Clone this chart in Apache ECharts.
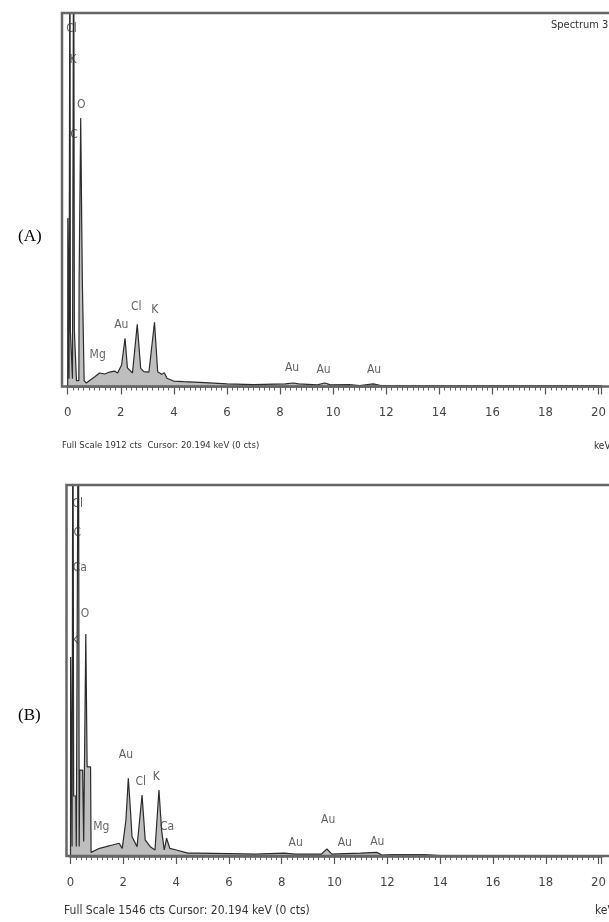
<!DOCTYPE html>
<html>
<head>
<meta charset="utf-8">
<script src="https://cdn.jsdelivr.net/npm/echarts@6/dist/echarts.min.js"></script>
<style>
html,body{margin:0;padding:0;background:#fff;}
#chart{width:609px;height:922px;}
</style>
</head>
<body>
<div id="chart"></div>
<script>
// ---------- Data ----------
// Panel (A): full scale 1912 cts
const energyA = [0.00,0.005,0.035,0.05,0.085,0.10,0.16,0.18,0.225,0.25,0.30,0.33,0.42,0.43,0.49,0.55,0.60,0.62,0.70,1.02,1.20,1.39,1.58,1.76,1.88,2.03,2.16,2.25,2.44,2.62,2.75,2.87,3.06,3.27,3.39,3.55,3.64,3.74,3.99,4.36,4.98,6.0,7.0,8.2,8.5,8.7,9.4,9.69,9.9,10.6,11.0,11.51,11.8,14.0,20.1];
const countsA = [0,863,863,40,2600,290,290,40,2600,290,290,30,30,550,1374,550,550,30,18,50,69,64,74,79,69,110,247,95,69,318,93,76,74,329,76,62,71,42,28,25,21,13,10,13,18,13,8,18,8,10,5,13,5,3,3];
// Panel (B): full scale 1546 cts
const energyB = [0.00,0.005,0.05,0.06,0.09,0.12,0.20,0.22,0.30,0.33,0.35,0.46,0.50,0.58,0.63,0.76,0.78,1.10,1.35,1.59,1.84,1.96,2.10,2.19,2.27,2.33,2.52,2.71,2.83,3.02,3.20,3.35,3.45,3.55,3.64,3.76,4.01,4.44,4.81,6.0,7.0,8.1,8.5,9.5,9.71,9.9,10.4,11.0,11.6,11.8,12.2,13.4,14.0,20.1];
const countsB = [0,829,829,40,2200,250,250,40,2200,40,358,358,60,925,371,371,15,32,39,46,53,32,150,324,192,80,39,254,67,39,25,275,108,25,74,32,25,12,12,10,8,12,8,8,29,8,10,12,15,4,6,6,2,2];

const fullScaleA = 1912;
const fullScaleB = 1546;
const xTicks = [0,2,4,6,8,10,12,14,16,18,20];

// Peak labels: [label, keV, counts]
const peakLabelsA = [
  ['Cl',0.14,1830],['K',0.20,1670],['O',0.51,1440],['C',0.24,1290],
  ['Mg',1.13,161],['Au',2.02,315],['Cl',2.58,407],['K',3.28,392],
  ['Au',8.45,95],['Au',9.64,84],['Au',11.54,84]
];
const peakLabelsB = [
  ['Cl',0.27,1467],['C',0.26,1346],['Ca',0.35,1200],['O',0.55,1008],['K',0.18,896],
  ['Mg',1.17,121],['Au',2.10,421],['Cl',2.66,308],['K',3.25,329],['Ca',3.66,121],
  ['Au',8.53,54],['Au',9.76,150],['Au',10.39,54],['Au',11.62,58]
];

// ---------- Build ----------
const zip = (xs, ys) => xs.map((x, i) => [x, ys[i]]);
const NARROW = "'Liberation Sans Narrow','DejaVu Sans Condensed','Roboto',sans-serif";
const chart = echarts.init(document.getElementById('chart'), null, {renderer:'canvas'});

function xAxisFor(gridIndex){
  return {
    type:'value', gridIndex, min:0, max:20.1, interval:2,
    axisLine:{show:true, onZero:false, lineStyle:{color:'#8a8a8a', width:3}},
    axisTick:{show:true, inside:false, length:8, lineStyle:{color:'#555', width:1.2}},
    minorTick:{show:true, splitNumber:10, length:4, lineStyle:{color:'#666', width:1}},
    splitLine:{show:false}, minorSplitLine:{show:false},
    axisLabel:{
      color:'#444', fontFamily:NARROW, fontSize:13, margin:20,
      formatter:(v)=> xTicks.indexOf(Math.round(v)) >= 0 && Math.abs(v-Math.round(v))<1e-6 ? String(Math.round(v)) : ''
    }
  };
}
function yAxisFor(gridIndex, max){
  return {type:'value', gridIndex, min:0, max, show:false, splitLine:{show:false}};
}
function spectrum(idx, data){
  return {
    type:'line', xAxisIndex:idx, yAxisIndex:idx, data, symbol:'none', clip:true,
    lineStyle:{color:'#2b2b2b', width:1.2},
    areaStyle:{color:'#a8a8a8', opacity:0.75},
    z:2
  };
}
function labels(idx, arr){
  return {
    type:'scatter', xAxisIndex:idx, yAxisIndex:idx, symbolSize:0,
    data: arr.map(d => ({value:[d[1], d[2]], name:d[0]})),
    label:{show:true, position:'inside', formatter:p=>p.name, color:'#3a3a3a',
           fontFamily:NARROW, fontSize:12},
    silent:true, z:5
  };
}

const option = {
  backgroundColor:'#ffffff',
  animation:false,
  grid:[
    {left:67.7, top:13, width:540.7, height:373.5},
    {left:70.5, top:485, width:540.7, height:371}
  ],
  xAxis:[xAxisFor(0), xAxisFor(1)],
  yAxis:[yAxisFor(0, fullScaleA), yAxisFor(1, fullScaleB)],
  series:[
    spectrum(0, zip(energyA, countsA)),
    spectrum(1, zip(energyB, countsB)),
    labels(0, peakLabelsA),
    labels(1, peakLabelsB)
  ],
  graphic:[
    {type:'rect', shape:{x:62, y:13, width:560, height:373.5}, style:{fill:'none', stroke:'#666', lineWidth:2.5}, z:10},
    {type:'rect', shape:{x:66.5, y:485, width:560, height:371}, style:{fill:'none', stroke:'#666', lineWidth:2.5}, z:10},
    {type:'text', left:18, top:228, style:{text:'(A)', font:"17px 'Liberation Serif','Times New Roman',serif", fill:'#000'}},
    {type:'text', left:18, top:707, style:{text:'(B)', font:"17px 'Liberation Serif','Times New Roman',serif", fill:'#000'}},
    {type:'text', left:551, top:20, style:{text:'Spectrum 3', font:"11px "+NARROW, fill:'#333'}},
    {type:'text', left:62, top:441, style:{text:'Full Scale 1912 cts  Cursor: 20.194 keV (0 cts)', font:"9.5px "+NARROW, fill:'#333'}},
    {type:'text', left:594, top:441, style:{text:'keV', font:"10px "+NARROW, fill:'#333'}},
    {type:'text', left:64, top:905, style:{text:'Full Scale 1546 cts Cursor: 20.194 keV (0 cts)', font:"12px "+NARROW, fill:'#333'}},
    {type:'text', left:595, top:905, style:{text:'keV', font:"12px "+NARROW, fill:'#333'}}
  ]
};
chart.setOption(option);
</script>
</body>
</html>
